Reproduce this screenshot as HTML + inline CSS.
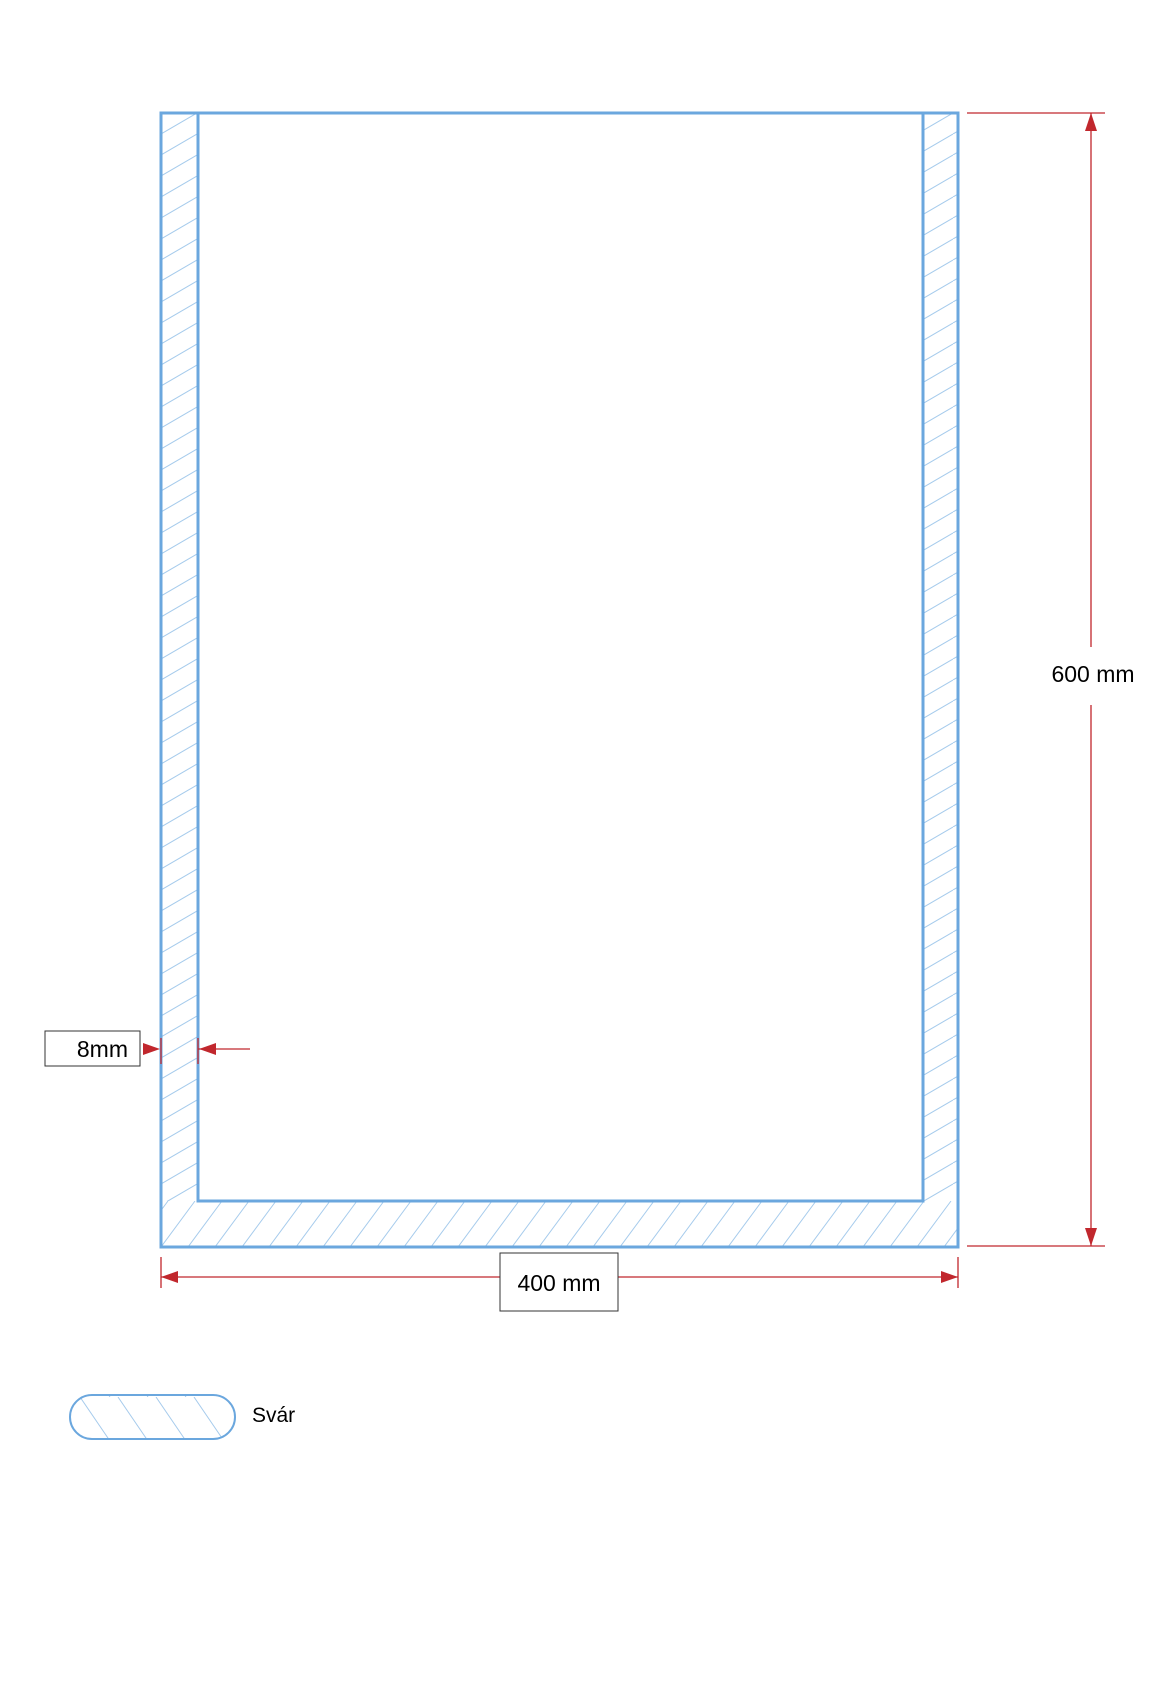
<!DOCTYPE html>
<html><head><meta charset="utf-8"><style>
html,body{margin:0;padding:0;background:#fff;}
svg{display:block;}
</style></head><body>
<svg width="1151" height="1696" viewBox="0 0 1151 1696" xmlns="http://www.w3.org/2000/svg">
<defs>
<pattern id="hv" patternUnits="userSpaceOnUse" x="161" y="113" width="36" height="21">
<path d="M0,21 L36,0 M-36,21 L0,0 M0,42 L36,21" stroke="#a6cbec" stroke-width="1"/>
</pattern>
<pattern id="hb" patternUnits="userSpaceOnUse" x="161" y="1201" width="27" height="46">
<path d="M0,46 L34,0 M-27,46 L7,0" stroke="#a6cbec" stroke-width="1"/>
</pattern>
<pattern id="hl" patternUnits="userSpaceOnUse" width="38" height="44" x="80" y="1397">
<path d="M0,0 L30,44 M38,0 L68,44 M-38,0 L-8,44" stroke="#a6cbec" stroke-width="1"/>
</pattern>
</defs>
<rect x="161" y="113" width="37" height="1088" fill="url(#hv)"/>
<rect x="923" y="113" width="35" height="1088" fill="url(#hv)"/>
<rect x="161" y="1201" width="797" height="46" fill="url(#hb)"/>
<rect x="161" y="113" width="797" height="1134" fill="none" stroke="#6ba7de" stroke-width="3"/>
<path d="M198,113 L198,1201 L923,1201 L923,113" fill="none" stroke="#6ba7de" stroke-width="3"/>
<g stroke="#c1272d" stroke-width="1.3" fill="none">
<line x1="967" y1="113" x2="1105" y2="113"/>
<line x1="967" y1="1246" x2="1105" y2="1246"/>
<line x1="1091" y1="113" x2="1091" y2="647"/>
<line x1="1091" y1="705" x2="1091" y2="1246"/>
<line x1="161" y1="1257" x2="161" y2="1288"/>
<line x1="958" y1="1257" x2="958" y2="1288"/>
<line x1="161" y1="1277" x2="500" y2="1277"/>
<line x1="618" y1="1277" x2="958" y2="1277"/>
<line x1="161" y1="1038" x2="161" y2="1064"/>
<line x1="198" y1="1038" x2="198" y2="1064"/>
<line x1="198" y1="1049" x2="250" y2="1049"/>
</g>
<g fill="#c1272d">
<polygon points="1091,113 1085,131 1097,131"/>
<polygon points="1091,1246 1085,1228 1097,1228"/>
<polygon points="161,1277 178,1271 178,1283"/>
<polygon points="958,1277 941,1271 941,1283"/>
<polygon points="160,1049 143,1043 143,1055"/>
<polygon points="199,1049 216,1043 216,1055"/>
</g>
<text x="1093" y="682" font-family="Liberation Sans, sans-serif" font-size="23" text-anchor="middle">600 mm</text>
<rect x="500" y="1253" width="118" height="58" fill="#fff" stroke="#333" stroke-width="1"/>
<text x="559" y="1291" font-family="Liberation Sans, sans-serif" font-size="23" text-anchor="middle">400 mm</text>
<rect x="45" y="1031" width="95" height="35" fill="#fff" stroke="#333" stroke-width="1"/>
<text x="128" y="1057" font-family="Liberation Sans, sans-serif" font-size="23" text-anchor="end">8mm</text>
<rect x="70" y="1395" width="165" height="44" rx="22" fill="url(#hl)" stroke="#6ba7de" stroke-width="2"/>
<text x="252" y="1422" font-family="Liberation Sans, sans-serif" font-size="21">Svár</text>
</svg>
</body></html>
